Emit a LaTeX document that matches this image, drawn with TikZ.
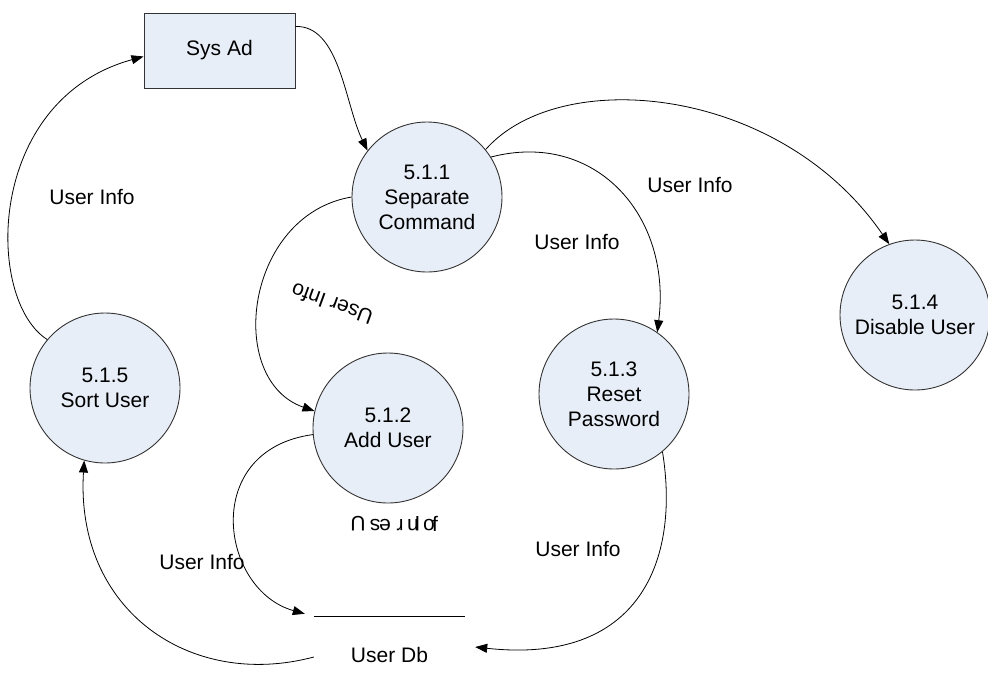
\documentclass[tikz,border=0pt]{standalone}
\usepackage{fontspec}
\setmainfont{Liberation Sans}
\usetikzlibrary{arrows.meta}
\definecolor{procfill}{HTML}{E8EEF7}
\definecolor{edgegray}{HTML}{333333}

\begin{document}
\begin{tikzpicture}[x=1pt,y=-1pt,
  every node/.style={font=\fontsize{21}{25}\selectfont},
  proc/.style={circle, draw=edgegray, fill=procfill, line width=0.9pt,
    minimum size=150pt, inner sep=0pt, align=center},
  entity/.style={rectangle, draw=edgegray, fill=procfill, line width=1pt,
    minimum width=151pt, minimum height=75pt},
  flow/.style={draw=black, line width=0.8pt, -{Triangle[length=12pt,width=9pt]}},
  lbl/.style={inner sep=1pt},
  glyph/.style={rotate=180, anchor=north, inner sep=0pt}]
\useasboundingbox (0,0) rectangle (988,689);

% external entity and processes
\node[entity] (sysad) at (219.5,50.5) {Sys Ad};
\node[proc] (p511) at (427,197) {5.1.1\\Separate\\Command};
\node[proc] (p512) at (388,428) {5.1.2\\Add User};
\node[proc] (p513) at (614,394) {5.1.3\\Reset\\Password};
\node[proc] (p514) at (915,315) {5.1.4\\Disable User};
\node[proc] (p515) at (105,388) {5.1.5\\Sort User};

% data store: open box with only its top line
\node[minimum width=151pt, minimum height=76pt, inner sep=0pt] (store) at (389.5,655) {User Db};
\draw[line width=1pt] (store.north west) -- (store.north east);

% data flows
\draw[flow] ([yshift=-14pt]sysad.north east) .. controls (340,25) and (345,105) .. (p511.142);
\draw[flow] (p511.39) .. controls (560,65) and (780,85) .. (p514.110);
\draw[flow] (p511.32) .. controls (595,130) and (672,215) .. (p513.55);
\draw[flow] (p511.180) .. controls (245,215) and (225,380) .. (p512.167);
\draw[flow] (p512.185) .. controls (200,450) and (220,590) .. ([xshift=-9pt,yshift=3pt]store.north west);
\draw[flow] (p513.-50) .. controls (680,560) and (640,665) .. ([xshift=10pt,yshift=8pt]store.east);
\draw[flow] ([yshift=-2pt]store.west) .. controls (190,690) and (75,610) .. (p515.-106);
\draw[flow] (p515.140) .. controls (-15,300) and (-15,100) .. ([yshift=-6pt]sysad.west);

% flow labels
\node[lbl] (l1) at (92,197) {User Info};
\node[lbl] (l2) at (690,185) {User Info};
\node[lbl] (l3) at (577,242) {User Info};
\node[lbl, rotate=160] (l4) at (332,304) {User Info};
\node[lbl] (l5) at (202,562) {User Info};
\node[lbl] (l6) at (578,549) {User Info};

% label under 5.1.2 with its letters turned over in place
\node[glyph] (g1) at (358,531) {U};
\node[glyph] (g2) at (375,531) {s};
\node[glyph] (g3) at (385,531) {e};
\node[glyph] (g4) at (400,531) {r};
\node[glyph] (g5) at (413,531) {n};
\node[glyph] (g6) at (417.5,531) {I};
\node[glyph] (g7) at (429,531) {o};
\node[anchor=base, inner sep=0pt] (g8) at (435,531) {f};
\end{tikzpicture}
\end{document}
